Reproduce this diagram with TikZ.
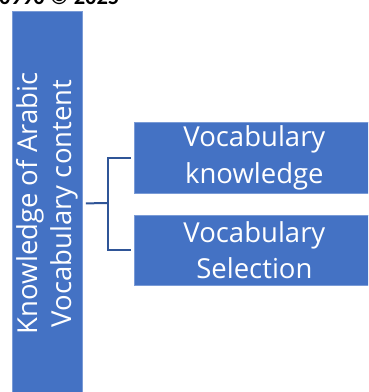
\documentclass[tikz,border=0pt]{standalone}
\usepackage{fontspec}
\setmainfont{Open Sans}
\newfontfamily\hdrfont{Carlito}
\definecolor{boxblue}{HTML}{4472C4}
\definecolor{boxedge}{HTML}{7A9BD6}
\definecolor{linkblue}{HTML}{2F5597}
\begin{document}
\begin{tikzpicture}[x=1pt,y=-1pt,
  bluebox/.style={draw=boxedge,line width=0.8pt,fill=boxblue,text=white,inner sep=0pt,anchor=north west},
  conn/.style={draw=linkblue,line width=2pt}]
\useasboundingbox (0,0) rectangle (368,392);
\clip (0,0) rectangle (368,392);
\node[anchor=base west,inner sep=0pt,font=\hdrfont\fontsize{22.5}{24}\selectfont\bfseries] (hdr) at (-1,4) {0990 © 2025};
\node[bluebox,minimum width=70pt,minimum height=384pt] (L) at (12,11) {};
\node[text=white,rotate=90,align=center,font=\fontsize{27.5}{34}\selectfont] (Lt) at (L.center) {Knowledge of Arabic\\Vocabulary content};
\node[bluebox,minimum width=240pt,minimum height=71pt,align=center,font=\fontsize{27.5}{36.5}\selectfont] (A) at (134,122) {Vocabulary\\knowledge};
\node[bluebox,minimum width=240pt,minimum height=70pt,align=center,font=\fontsize{27.5}{36.5}\selectfont] (B) at (134,215) {Vocabulary\\Selection};
\coordinate (j) at (107.5,203);
\draw[conn] ([xshift=3pt]L.east) -- (j);
\draw[conn] ([xshift=-3pt]A.west) -| (j |- B.west) -- ([xshift=-3pt]B.west);
\end{tikzpicture}
\end{document}
